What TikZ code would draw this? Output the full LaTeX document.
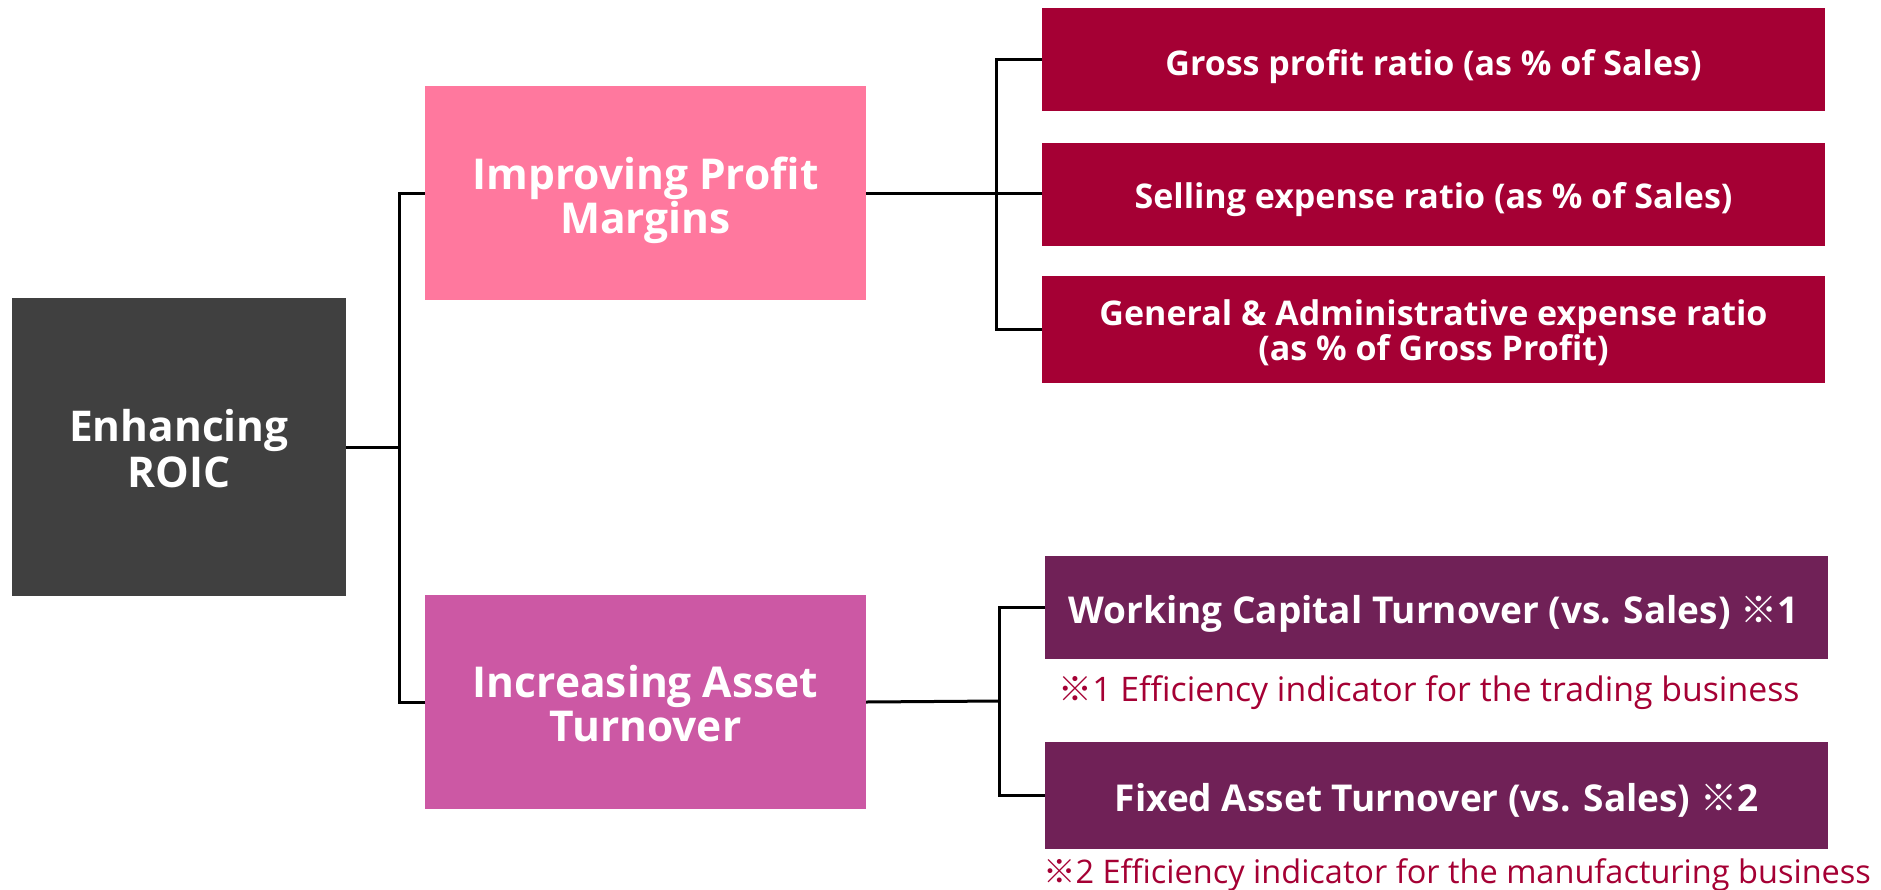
\documentclass[tikz,border=0pt]{standalone}
\usepackage{fontspec}
\setmainfont{Open Sans}
\newfontfamily\cjk{Noto Sans CJK JP}
\definecolor{cdark}{HTML}{404040}
\definecolor{cpink}{HTML}{FF789E}
\definecolor{cmag}{HTML}{CC58A4}
\definecolor{cred}{HTML}{A50034}
\definecolor{cpur}{HTML}{702157}
\newcommand{\refmark}{{\cjk\bfseries ※}}
\tikzset{
  box/.style={rectangle, inner sep=0pt},
  bigbox/.style={box, minimum width=441pt, minimum height=214pt},
  leaf/.style={box, minimum width=783pt},
  txt/.style={inner sep=0pt, anchor=base, align=center, text=white},
  ttl/.style={txt, font=\fontsize{42.5}{44}\selectfont\bfseries},
  redtxt/.style={txt, font=\fontsize{34}{35}\selectfont\bfseries},
  purtxt/.style={txt, font=\fontsize{37}{40}\selectfont\bfseries},
  note/.style={inner sep=0pt, anchor=base, text=cred},
  link/.style={draw=black, line width=3pt}
}
\begin{document}
\begin{tikzpicture}[x=1pt,y=-1pt]
\useasboundingbox[fill=white] (0,0) rectangle (1881,889);
% boxes
\node[box, fill=cdark, minimum width=334pt, minimum height=298pt] (roic) at (179,447) {};
\node[bigbox, fill=cpink] (pm) at (645.5,193) {};
\node[bigbox, fill=cmag] (at) at (645.5,702) {};
\node[leaf, fill=cred, minimum height=103pt] (r1) at (1433.5,59.5) {};
\node[leaf, fill=cred, minimum height=103pt] (r2) at (1433.5,194.5) {};
\node[leaf, fill=cred, minimum height=107pt] (r3) at (1433.5,329.5) {};
\node[leaf, fill=cpur, minimum height=103pt] (p1) at (1436.5,607.5) {};
\node[leaf, fill=cpur, minimum height=107pt] (p2) at (1436.5,795.5) {};
% texts (anchor = baseline of the last line)
\node[ttl, font=\fontsize{42.4}{45.6}\selectfont\bfseries] (roict) at (179,487.3) {Enhancing\\ROIC};
\node[ttl] (pmt) at (645.5,233) {Improving Profit\\Margins};
\node[ttl] (att) at (645.5,741) {Increasing Asset\\Turnover};
\node[redtxt] (r1t) at (1433.5,75) {Gross profit ratio (as \% of Sales)};
\node[redtxt] (r2t) at (1433.5,208) {Selling expense ratio (as \% of Sales)};
\node[redtxt] (r3t) at (1433.5,360) {General \& Administrative expense ratio\\(as \% of Gross Profit)};
\node[purtxt] (p1t) at (1433.5,623.3) {Working Capital Turnover (vs. Sales) \refmark1};
\node[purtxt] (p2t) at (1436.5,811.7) {Fixed Asset Turnover (vs. Sales) \refmark2};
\node[note, font=\fontsize{33.8}{36}\selectfont] (n1) at (1429,701) {{\cjk ※}1 Efficiency indicator for the trading business};
\node[note, font=\fontsize{32.5}{36}\selectfont] (n2) at (1457,883) {{\cjk ※}2 Efficiency indicator for the manufacturing business};
% connectors
\coordinate (j1) at (399,447);
\coordinate (j2) at (996,193);
\coordinate (j3) at (999,701);
\draw[link] (roic.east) -- (j1);
\draw[link] (pm.west) -| (j1) |- (at.west);
\draw[link] (pm.east) -- (pm.east -| r2.west);
\draw[link] (r1.west) -| (j2) |- (r3.west);
\draw[link] (at.east) -- (j3);
\draw[link] (p1.west) -| (j3) |- (p2.west);
\end{tikzpicture}
\end{document}
